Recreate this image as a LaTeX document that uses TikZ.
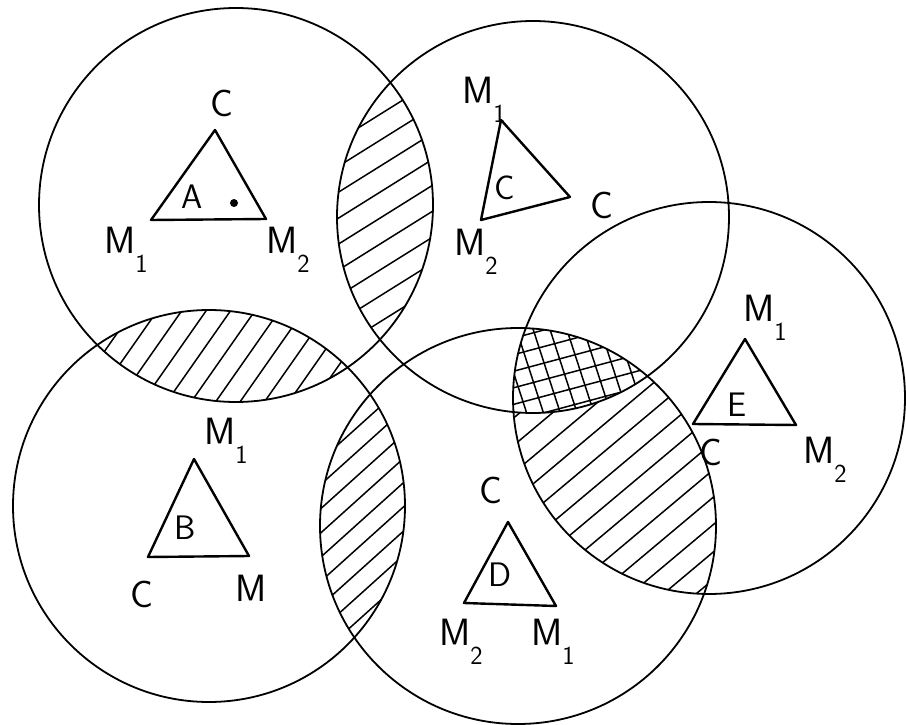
\documentclass[tikz,border=0pt]{standalone}
\usepackage{fontspec}
\setsansfont{Latin Modern Sans}
\newcommand\vsub[2]{#1\raisebox{-0.5em}{\fontsize{26}{28}\selectfont #2}}
\newcommand\hatchlines[3]{%
  \begin{scope}[shift={#1},rotate=#2]
    \foreach \k in {-16,...,16}
      \draw[hatch] (-320,\k*#3) -- (320,\k*#3);
  \end{scope}}
\begin{document}
\begin{tikzpicture}[x=1pt,y=-1pt,
  circ/.style={line width=1.8pt},
  tri/.style={line width=2.4pt,line join=round},
  hatch/.style={line width=1.5pt},
  lab/.style={font=\sffamily\fontsize{38}{42}\selectfont,inner sep=0pt},
  inlab/.style={font=\sffamily\fontsize{34}{38}\selectfont,inner sep=0pt}]
\useasboundingbox (0,0) rectangle (906,725);

% circle centres
\coordinate (cA) at (236,205);
\coordinate (cB) at (209,506);
\coordinate (cC) at (533,217);
\coordinate (cD) at (518,526);
\coordinate (cE) at (709,398);

% hatched overlaps
\begin{scope}
\clip (cA) circle[radius=197pt];
\clip (cC) circle[radius=196pt];
\hatchlines{(385,215)}{32}{22}
\end{scope}

\begin{scope}
\clip (cA) circle[radius=197pt];
\clip (cB) circle[radius=196pt];
\hatchlines{(224,355)}{55}{20}
\end{scope}

\begin{scope}
\clip (cB) circle[radius=196pt];
\clip (cD) circle[radius=198pt];
\hatchlines{(362,520)}{42}{18}
\end{scope}

\begin{scope}[even odd rule]
\clip (cD) circle[radius=198pt];
\clip (cE) circle[radius=196pt];
\clip (0,0) rectangle (906,725) (cC) circle[radius=196pt];
\hatchlines{(615,470)}{40}{21}
\end{scope}

\begin{scope}
\clip (cC) circle[radius=196pt];
\clip (cD) circle[radius=198pt];
\clip (cE) circle[radius=196pt];
\hatchlines{(580,370)}{-72}{16}
\hatchlines{(580,370)}{15}{16}
\end{scope}

% circles
\draw[circ] (cA) circle[radius=197pt];
\draw[circ] (cB) circle[radius=196pt];
\draw[circ] (cC) circle[radius=196pt];
\draw[circ] (cD) circle[radius=198pt];
\draw[circ] (cE) circle[radius=196pt];

% triangle A
\coordinate (a1) at (215,130);
\coordinate (a2) at (151,220);
\coordinate (a3) at (266,219);
\draw[tri] (a1) -- (a2) -- (a3) -- cycle;
\node[lab] (aC) at (222,103) {C};
\node[lab] (aM1) at (126,250) {\vsub{M}{1}};
\node[lab] (aM2) at (288,250) {\vsub{M}{2}};
\node[inlab] (aL) at (192,197) {A};
\fill (234,203) circle[radius=4pt];

% triangle C
\coordinate (c1) at (501,120);
\coordinate (c2) at (481,220);
\coordinate (c3) at (570,197);
\draw[tri] (c1) -- (c2) -- (c3) -- cycle;
\node[lab] (cM1) at (484,100) {\vsub{M}{1}};
\node[lab] (cM2) at (476,252) {\vsub{M}{2}};
\node[lab] (cCl) at (602,205) {C};
\node[inlab] (cL) at (505,188) {C};

% triangle E
\coordinate (e1) at (745,339);
\coordinate (e2) at (693,424);
\coordinate (e3) at (796,425);
\draw[tri] (e1) -- (e2) -- (e3) -- cycle;
\node[lab] (eM1) at (765,318) {\vsub{M}{1}};
\node[lab] (eM2) at (825,460) {\vsub{M}{2}};
\node[lab] (eC) at (711,452) {C};
\node[inlab] (eL) at (737,405) {E};

% triangle B
\coordinate (b1) at (194,459);
\coordinate (b2) at (148,557);
\coordinate (b3) at (249,556);
\draw[tri] (b1) -- (b2) -- (b3) -- cycle;
\node[lab] (bM1) at (226,441) {\vsub{M}{1}};
\node[lab] (bC) at (142,594) {C};
\node[lab] (bM) at (251,588) {M};
\node[inlab] (bL) at (185,528) {B};

% triangle D
\coordinate (d1) at (508,522);
\coordinate (d2) at (464,603);
\coordinate (d3) at (556,606);
\draw[tri] (d1) -- (d2) -- (d3) -- cycle;
\node[lab] (dC) at (491,490) {C};
\node[lab] (dM2) at (461,642) {\vsub{M}{2}};
\node[lab] (dM1) at (553,642) {\vsub{M}{1}};
\node[inlab] (dL) at (500,575) {D};
\end{tikzpicture}
\end{document}
